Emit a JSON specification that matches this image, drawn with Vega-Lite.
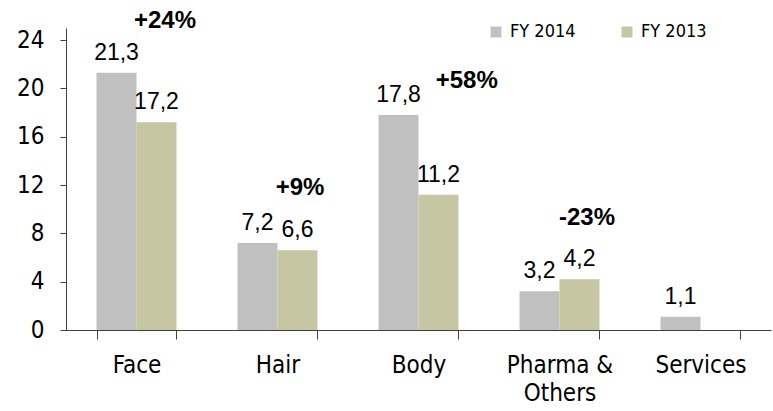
{
  "$schema": "https://vega.github.io/schema/vega-lite/v6.json",
  "width": 705,
  "height": 302,
  "autosize": {"type": "none"},
  "padding": {"left": 66, "top": 28, "right": 2, "bottom": 81},
  "config": {"view": {"stroke": null}, "font": "Liberation Sans"},
  "datasets": {
    "sales": [
      {"category": "Face", "series": "FY 2014", "value": 21.3, "label": "21,3"},
      {"category": "Face", "series": "FY 2013", "value": 17.2, "label": "17,2"},
      {"category": "Hair", "series": "FY 2014", "value": 7.2, "label": "7,2"},
      {"category": "Hair", "series": "FY 2013", "value": 6.6, "label": "6,6"},
      {"category": "Body", "series": "FY 2014", "value": 17.8, "label": "17,8"},
      {"category": "Body", "series": "FY 2013", "value": 11.2, "label": "11,2"},
      {"category": "Pharma & Others", "series": "FY 2014", "value": 3.2, "label": "3,2"},
      {"category": "Pharma & Others", "series": "FY 2013", "value": 4.2, "label": "4,2"},
      {"category": "Services", "series": "FY 2014", "value": 1.1, "label": "1,1"}
    ],
    "notes": [
      {"note": "+24%", "pos": 0.702, "value": 25.0},
      {"note": "+9%", "pos": 1.66, "value": 11.18},
      {"note": "+58%", "pos": 2.842, "value": 20.03},
      {"note": "-23%", "pos": 3.695, "value": 8.69}
    ]
  },
  "layer": [
    {
      "data": {"name": "sales"},
      "encoding": {
        "x": {
          "field": "category",
          "type": "nominal",
          "sort": ["Face", "Hair", "Body", "Pharma & Others", "Services"],
          "scale": {"paddingInner": 0.433, "paddingOuter": 0.2165},
          "axis": {
            "title": null,
            "labelAngle": 0,
            "tickBand": "extent",
            "tickSize": 9,
            "domainColor": "#404040",
            "tickColor": "#404040",
            "labelFont": "DejaVu Sans Condensed, Liberation Sans, sans-serif",
            "labelFontSize": 24,
            "labelColor": "#000000",
            "labelPadding": 14,
            "labelLineHeight": 28,
            "labelExpr": "datum.label == 'Pharma & Others' ? ['Pharma &', 'Others'] : datum.label"
          }
        },
        "xOffset": {
          "field": "series",
          "type": "nominal",
          "sort": ["FY 2014", "FY 2013"],
          "scale": {"paddingInner": 0, "paddingOuter": 0}
        },
        "y": {
          "field": "value",
          "type": "quantitative",
          "scale": {"domain": [0, 25], "nice": false},
          "axis": {
            "title": null,
            "values": [0, 4, 8, 12, 16, 20, 24],
            "grid": false,
            "domainColor": "#404040",
            "tickColor": "#404040",
            "tickSize": 6,
            "labelFont": "DejaVu Sans Condensed, Liberation Sans, sans-serif",
            "labelFontSize": 24,
            "labelColor": "#000000",
            "labelPadding": 16
          }
        }
      },
      "layer": [
        {
          "mark": {"type": "bar"},
          "encoding": {
            "color": {
              "field": "series",
              "type": "nominal",
              "scale": {"domain": ["FY 2014", "FY 2013"], "range": ["#C0C0C0", "#C6C6A2"]},
              "legend": {
                "orient": "none",
                "legendX": 421,
                "legendY": -5,
                "direction": "horizontal",
                "title": null,
                "symbolType": "square",
                "symbolSize": 121,
                "symbolStrokeWidth": 0,
                "labelFont": "DejaVu Sans Condensed, Liberation Sans, sans-serif",
                "labelFontSize": 18,
                "labelColor": "#000000",
                "labelOffset": 5,
                "columnPadding": 42
              }
            }
          }
        },
        {
          "mark": {"type": "text", "dy": -13, "baseline": "alphabetic", "fontSize": 23, "font": "Liberation Sans", "color": "#000000"},
          "encoding": {"text": {"field": "label"}}
        }
      ]
    },
    {
      "data": {"name": "notes"},
      "mark": {"type": "text", "fontWeight": "bold", "fontSize": 24, "font": "Liberation Sans", "baseline": "alphabetic", "align": "center", "color": "#000000"},
      "encoding": {
        "x": {"field": "pos", "type": "quantitative", "scale": {"domain": [0, 5], "nice": false, "zero": true}, "axis": null},
        "y": {"field": "value", "type": "quantitative"},
        "text": {"field": "note"}
      }
    }
  ],
  "resolve": {"scale": {"x": "independent"}}
}
